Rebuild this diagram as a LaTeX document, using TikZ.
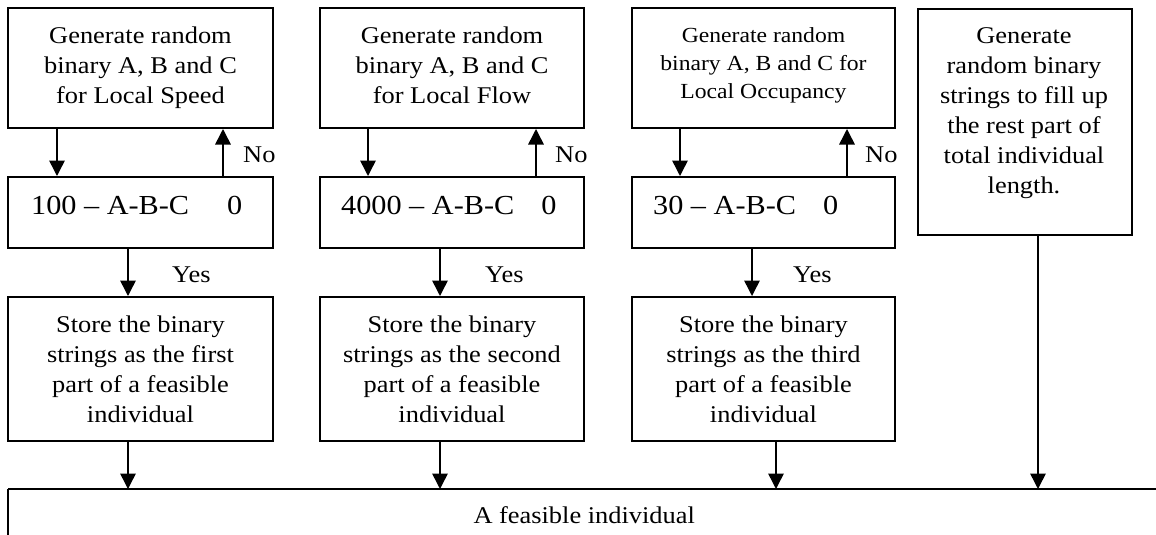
\documentclass[tikz,border=0pt]{standalone}
\usepackage{fontspec}
\setmainfont{Liberation Serif}[FakeStretch=1.1]
\usetikzlibrary{arrows.meta}
\newcommand\bxfont{\fontsize{24}{30}\selectfont}
\newcommand\smfont{\fontsize{21.5}{28}\selectfont}
\newcommand\dcfont{\fontsize{27.5}{32}\selectfont}
\begin{document}
\begin{tikzpicture}[x=1pt,y=-1pt,
  box/.style={draw, line width=2pt, inner sep=0pt, align=center, font=\bxfont},
  dtxt/.style={inner sep=0pt, font=\dcfont},
  lbl/.style={inner sep=0pt, font=\bxfont},
  arr/.style={line width=1.5pt, -{Triangle[length=15.5pt,width=15.5pt]}}]
\clip (0,0) rectangle (1156,535);
% column 1
\node[box, minimum width=265pt, minimum height=120pt] (t1) at (140.5,68) {Generate random\\binary A, B and C\\for Local Speed};
\node[box, minimum width=265pt, minimum height=71pt] (d1) at (140.5,212.5) {};
\node[dtxt, anchor=base west] (d1t) at (31,214) {100 – A-B-C\hspace{38pt}0};
\node[box, minimum width=265pt, minimum height=144pt] (s1) at (140.5,369) {Store the binary\\strings as the first\\part of a feasible\\individual};
% column 2
\node[box, minimum width=264pt, minimum height=120pt] (t2) at (452,68) {Generate random\\binary A, B and C\\for Local Flow\vphantom{p}};
\node[box, minimum width=264pt, minimum height=71pt] (d2) at (452,212.5) {};
\node[dtxt, anchor=base west] (d2t) at (341,214) {4000 – A-B-C\hspace{27pt}0};
\node[box, minimum width=264pt, minimum height=144pt] (s2) at (452,369) {Store the binary\\strings as the second\\part of a feasible\\individual};
% column 3
\node[box, minimum width=263pt, minimum height=120pt, font=\smfont] (t3) at (763.5,68) {Generate random\\binary A, B and C for\\Local Occupancy\rule[-10.7pt]{0pt}{1pt}};
\node[box, minimum width=263pt, minimum height=71pt] (d3) at (763.5,212.5) {};
\node[dtxt, anchor=base west] (d3t) at (653,214) {30 – A-B-C\hspace{27pt}0};
\node[box, minimum width=263pt, minimum height=144pt] (s3) at (763.5,369) {Store the binary\\strings as the third\\part of a feasible\\individual};
% column 4
\node[box, minimum width=214pt, minimum height=226pt, anchor=north west] (t4) at (917,8) {};
\node[inner sep=0pt, align=center, font=\bxfont, anchor=north] (t4t) at (1024,27.7) {Generate\\random binary\\strings to fill up\\the rest part of\\total individual\\length.};
% bottom box
\node[inner sep=0pt, minimum width=1152pt, minimum height=51.6pt, anchor=north west, font=\bxfont] (fb) at (8,489) {A feasible individual};
\draw[line width=2.2pt] (fb.north west) -- (fb.north east);
\draw[line width=1.3pt] (fb.north west) -- (fb.south west);
% arrow columns
\coordinate (k1a) at (57,0);  \coordinate (k1n) at (223,0); \coordinate (k1y) at (128,0); \coordinate (k1b) at (128,0);
\coordinate (k2a) at (368,0); \coordinate (k2n) at (536,0); \coordinate (k2y) at (440,0); \coordinate (k2b) at (440,0);
\coordinate (k3a) at (680,0); \coordinate (k3n) at (847,0); \coordinate (k3y) at (752,0); \coordinate (k3b) at (776,0);
\coordinate (k4) at (1038,0);
\foreach \i in {1,2,3}{
  \draw[arr] (t\i.south -| k\i a) -- (d\i.north -| k\i a);
  \draw[arr] (d\i.north -| k\i n) -- (t\i.south -| k\i n);
  \draw[arr] (d\i.south -| k\i y) -- (s\i.north -| k\i y);
  \draw[arr] (s\i.south -| k\i b) -- (fb.north -| k\i b);
}
\draw[arr] (t4.south -| k4) -- (fb.north -| k4);
% labels
\node[lbl, anchor=base west] (n1) at (243,162) {No};
\node[lbl, anchor=base west] (n2) at (555,162) {No};
\node[lbl, anchor=base west] (n3) at (865,162) {No};
\node[lbl, anchor=base west] (y1) at (172,282) {Yes};
\node[lbl, anchor=base west] (y2) at (485,282) {Yes};
\node[lbl, anchor=base west] (y3) at (793,282) {Yes};
\end{tikzpicture}
\end{document}
